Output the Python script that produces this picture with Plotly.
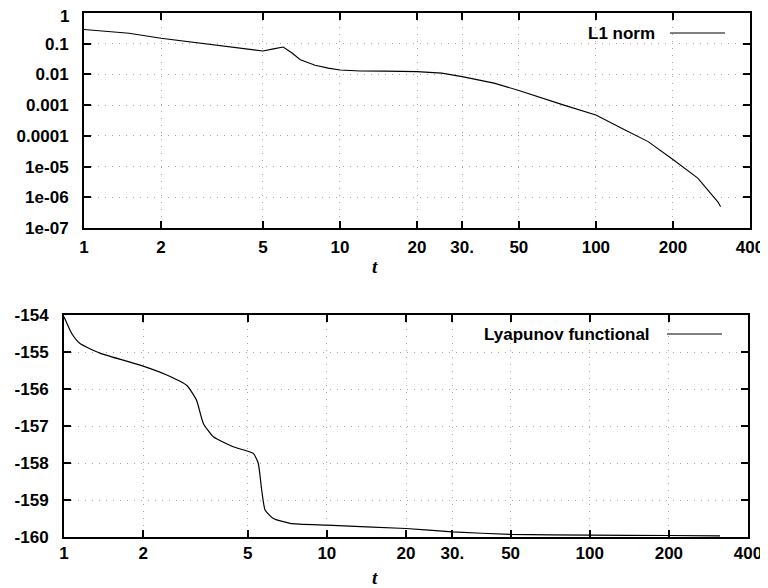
import plotly.graph_objects as go
import math

# ---- data ----
t_l1 = [1, 1.5, 2, 2.5, 3, 4, 5, 5.5, 6, 6.5, 7, 8, 9, 10, 12, 15, 20, 25, 30, 40, 50, 75, 100, 130, 160, 200, 250, 300, 307]
l1_norm = [0.29, 0.22, 0.15, 0.12, 0.1, 0.075, 0.058, 0.068, 0.078, 0.05, 0.03, 0.02, 0.016, 0.014, 0.013, 0.0128, 0.0123,
           0.011, 0.0085, 0.0052, 0.003, 0.001, 0.00048, 0.000155, 6.5e-5, 1.7e-5, 4.2e-6, 7e-7, 4.9e-7]

t_ly = [1, 1.07, 1.15, 1.37, 2, 2.46, 2.93, 3.19, 3.39, 3.7, 4.4, 5.25, 5.48, 5.65, 5.82, 6.26, 7.24, 10, 20, 30, 50, 100, 200, 313]
lyapunov = [-154.05, -154.5, -154.77, -155.03, -155.38, -155.62, -155.9, -156.3, -156.93, -157.29, -157.56, -157.74, -158.0,
            -158.73, -159.27, -159.5, -159.63, -159.68, -159.77, -159.86, -159.93, -159.95, -159.96, -159.97]

x_tickvals = [1, 2, 5, 10, 20, 30, 50, 100, 200, 400]
x_ticktext = ["1", "2", "5", "10", "20", "30.", "50", "100", "200", "400"]
y1_tickvals = [1, 0.1, 0.01, 0.001, 0.0001, 1e-5, 1e-6, 1e-7]
y1_ticktext = ["1", "0.1", "0.01", "0.001", "0.0001", "1e-05", "1e-06", "1e-07"]
y2_tickvals = [-154, -155, -156, -157, -158, -159, -160]
y2_ticktext = ["-154", "-155", "-156", "-157", "-158", "-159", "-160"]

# page body has an 8px margin: figure is placed at (8, 8) on screen
OFF = 8
W, H = 760, 580
FONT = "Liberation Sans"


def px(x):
    return (x - OFF) / W


def py(y):
    return 1 - (y - OFF) / H


fig = go.Figure()
fig.add_trace(go.Scatter(x=t_l1, y=l1_norm, mode="lines", line=dict(color="black", width=1.1),
                         xaxis="x", yaxis="y", showlegend=False))
fig.add_trace(go.Scatter(x=t_ly, y=lyapunov, mode="lines", line=dict(color="black", width=1.2, shape="spline", smoothing=0.5),
                         xaxis="x2", yaxis="y2", showlegend=False))

tickfont = dict(family=FONT, size=17, color="black", weight="bold")
GRID = dict(showgrid=True, gridcolor="#a8a8a8", griddash="1px,6px", gridwidth=1)
common_x = dict(type="log", range=[0, math.log10(400)], tickmode="array", tickvals=x_tickvals, ticktext=x_ticktext,
                ticks="inside", ticklen=7, tickwidth=1.5, tickcolor="black", mirror="ticks", showline=True,
                linecolor="black", linewidth=2, tickfont=tickfont, zeroline=False, automargin=False,
                ticklabeloverflow="allow", **GRID)
common_y = dict(tickmode="array", ticks="inside", ticklen=7, tickwidth=1.5, tickcolor="black", mirror="ticks",
                showline=True, linecolor="black", linewidth=2, tickfont=tickfont, ticklabelstandoff=10,
                zeroline=False, automargin=False, ticklabeloverflow="allow", **GRID)

# the top "1" label sits slightly below its tick in the reference; draw it as an annotation
y1_ticktext_axis = ["" if v == 1 else s for v, s in zip(y1_tickvals, y1_ticktext)]

fig.update_layout(
    width=W, height=H, margin=dict(l=0, r=0, t=0, b=0, autoexpand=False),
    paper_bgcolor="white", plot_bgcolor="white",
    xaxis=dict(common_x, domain=[px(84), px(750)], anchor="y", ticklabelstandoff=3),
    yaxis=dict(common_y, type="log", range=[-7, 0], domain=[py(228), py(13)], anchor="x",
               tickvals=y1_tickvals, ticktext=y1_ticktext_axis),
    xaxis2=dict(common_x, domain=[px(64), px(748)], anchor="y2", ticklabelstandoff=0),
    yaxis2=dict(common_y, range=[-160, -154], domain=[py(537), py(315)], anchor="x2",
                tickvals=y2_tickvals, ticktext=y2_ticktext),
    showlegend=False,
)
fig.add_annotation(x=px(71), y=py(16), xref="paper", yref="paper", text=y1_ticktext[0], xanchor="right",
                   yanchor="middle", showarrow=False, font=tickfont)

# minor log ticks on the top y axis (both sides)
for e in range(-7, 0):
    for m in range(2, 10):
        ly = math.log10(m * 10 ** e)
        for x0, x1 in ((0, 4 / 666), (1 - 4 / 666, 1)):
            fig.add_shape(type="line", xref="x domain", yref="y", x0=x0, x1=x1, y0=ly, y1=ly,
                          line=dict(color="black", width=1.3), layer="above")

# axis titles "t"
for ypix in (266, 577):
    fig.add_annotation(x=px(375), y=py(ypix), xref="paper", yref="paper", text="<i><b>t</b></i>",
                       yanchor="middle", showarrow=False, font=dict(family="Liberation Serif", size=19, color="black"))

# legend keys (gnuplot style: text then sample line)
fig.add_annotation(x=px(657), y=py(33), xref="paper", yref="paper", text="L1 norm", xanchor="right",
                   yanchor="middle", showarrow=False, font=dict(family=FONT, size=17, color="black", weight="bold"))
fig.add_shape(type="line", xref="paper", yref="paper", x0=px(670), x1=px(725), y0=py(33), y1=py(33),
              line=dict(color="black", width=1))
fig.add_annotation(x=px(652), y=py(334), xref="paper", yref="paper", text="Lyapunov functional", xanchor="right",
                   yanchor="middle", showarrow=False, font=dict(family=FONT, size=17, color="black", weight="bold"))
fig.add_shape(type="line", xref="paper", yref="paper", x0=px(667), x1=px(722), y0=py(334), y1=py(334),
              line=dict(color="black", width=1))

fig.write_html("out.html", default_width=f"{W}px", default_height=f"{H}px")
